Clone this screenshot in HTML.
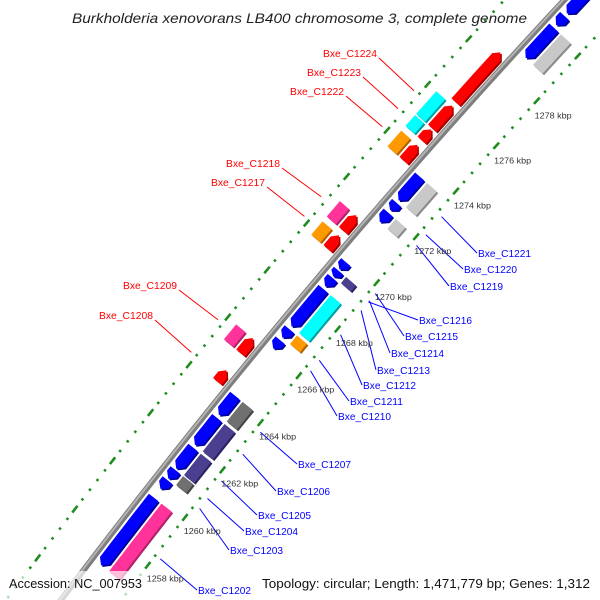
<!DOCTYPE html>
<html><head><meta charset="utf-8"><style>
html,body{margin:0;padding:0;background:#fff;overflow:hidden;}
svg{display:block;font-family:"Liberation Sans","DejaVu Sans",sans-serif;}
</style></head><body>
<svg id="map" width="600" height="600" viewBox="0 0 600 600" xmlns="http://www.w3.org/2000/svg">
<rect x="0" y="0" width="600" height="600" fill="#fff"/>
<g id="ticks"></g>
<g id="backbone"></g>
<g id="genes"></g>
<rect x="0" y="571" width="600" height="29" fill="#fff" fill-opacity="0.68"/>
<g id="leaders"></g>
<g id="labels"></g>
<g id="ticklabels"></g>
<text x="72" y="23" font-size="14" font-style="italic" fill="#222" textLength="455" lengthAdjust="spacingAndGlyphs">Burkholderia xenovorans LB400 chromosome 3, complete genome</text>
<text x="9" y="588" font-size="13" fill="#111" textLength="133" lengthAdjust="spacingAndGlyphs">Accession: NC_007953</text>
<text x="262" y="588" font-size="13" fill="#111" textLength="328" lengthAdjust="spacingAndGlyphs">Topology: circular; Length: 1,471,779 bp; Genes: 1,312</text>
</svg>
<script>
// genome data (kbp)
const outerStarts = [1264.16, 1265.36, 1269.81, 1270.59, 1273.62, 1274.51, 1275.03, 1276.18];
const outerEnds   = [1264.63, 1265.99, 1270.38, 1271.25, 1274.30, 1274.98, 1276.02, 1278.37];
const outerCogStarts = [1265.36, 1269.81, 1270.59, 1273.62, 1274.51, 1275.03];
const outerCogEnds   = [1265.99, 1270.38, 1271.25, 1274.30, 1274.98, 1276.02];
const outerCogCats   = ["pink", "orange", "pink", "orange", "cyan", "cyan"];
const innerStarts = [1257.06, 1260.24, 1260.66, 1261.08, 1262.07, 1263.33, 1266.15, 1266.62, 1267.09, 1268.81, 1269.23, 1269.54, 1271.58, 1272.10, 1272.52, 1278.79, 1280.26, 1280.78];
const innerEnds   = [1259.88, 1260.61, 1261.03, 1261.97, 1263.22, 1264.16, 1266.51, 1266.98, 1268.71, 1269.18, 1269.49, 1269.86, 1272.00, 1272.42, 1273.57, 1280.15, 1280.67, 1283.5];
const innerCogStarts = [1257.06, 1260.66, 1261.08, 1262.07, 1263.33, 1266.62, 1267.09, 1269.23, 1271.58, 1272.52, 1278.79];
const innerCogEnds   = [1259.88, 1261.03, 1261.97, 1263.22, 1264.16, 1266.98, 1268.71, 1269.49, 1272.00, 1273.57, 1280.15];
const innerCogCats   = ["pink", "dgray", "purple", "purple", "dgray", "orange", "cyan", "purple", "lgray", "lgray", "lgray"];
const tickKbp = [1258, 1260, 1262, 1264, 1266, 1268, 1270, 1272, 1274, 1276, 1278];
const outerLabelNames = ["Bxe_C1224","Bxe_C1223","Bxe_C1222","Bxe_C1218","Bxe_C1217","Bxe_C1209","Bxe_C1208"];
const outerLabelTargets = [1275.55, 1274.77, 1273.99, 1270.96, 1270.12, 1265.73, 1264.36];
const innerLabelNames = ["Bxe_C1221","Bxe_C1220","Bxe_C1219","Bxe_C1216","Bxe_C1215","Bxe_C1214","Bxe_C1213","Bxe_C1212","Bxe_C1211","Bxe_C1210","Bxe_C1207","Bxe_C1206","Bxe_C1205","Bxe_C1204","Bxe_C1203","Bxe_C1202"];
const innerLabelTargets = [1273.05, 1272.26, 1271.79, 1269.34, 1269.70, 1269.39, 1268.97, 1267.92, 1266.82, 1266.37, 1263.75, 1262.82, 1261.69, 1260.95, 1260.53, 1258.42];
// label layout (screen anchors)
const outerLabelLayout = [[377,53],[361,72],[344,91],[280,163],[265,182],[177,285],[153,315]];
const innerLabelLayout = [[478,253],[464,269],[450,286],[419,320],[405,336],[391,353],[377,370],[363,385],[350,401],[338,416],[298,464],[277,491],[258,515],[245,531],[230,550],[198,590]];

const NS="http://www.w3.org/2000/svg";
const CX=6024, CY=5091, R0=7465, TH0=-2.4281, KB=244.75, PXK=30.5;
function P(s,r){const t=TH0+(s-1272)/KB;return [CX+(R0+r)*Math.cos(t), CY+(R0+r)*Math.sin(t)];}
const COLORS={red:["#ff0000","#a00000"],blue:["#0000ff","#00009a"],cyan:["#00ffff","#00a0a0"],orange:["#ff9900","#b06000"],pink:["#ff3399","#b0206a"],lgray:["#c8c8c8","#8a8a8a"],dgray:["#707070","#444"],purple:["#4b3f8f","#2a2260"]};
function mk(tag,attrs,parent){const e=document.createElementNS(NS,tag);for(const k in attrs)e.setAttribute(k,attrs[k]);parent.appendChild(e);return e;}
function pts(list){return list.map(p=>p[0].toFixed(2)+","+p[1].toFixed(2)).join(" ");}

// tick rings
const tg=document.getElementById("ticks");
[44,-48].forEach(function(r){
  for(let i=0;i<=110;i++){
    const s=1250+i*0.4;
    const major=Math.abs(s/2-Math.round(s/2))<0.01;
    const h=major?0.14:0.04;
    const a=P(s-h,r), b=P(s+h,r);
    const l=mk("line",{x1:a[0],y1:a[1],x2:b[0],y2:b[1],stroke:"#1e8c1e","stroke-width":2.6},tg);
    
    
  }
});

// backbone
const bg=document.getElementById("backbone");
const bb=[],bb2=[];
for(let s=1245;s<=1292;s+=0.5){bb.push(P(s,0));bb2.push(P(s,1));}
const b1=mk("polyline",{points:pts(bb),fill:"none",stroke:"#7f7f7f","stroke-width":6},bg);


const b2=mk("polyline",{points:pts(bb2),fill:"none",stroke:"#b4b4b4","stroke-width":2},bg);



// genes
const gg=document.getElementById("genes");
function shape(s0,s1,r1,r2,dir){
  const len=s1-s0; const hd=Math.min(6/PXK,len*0.5); const rm=(r1+r2)/2; const out=[];
  const steps=Math.max(2,Math.ceil(len*4));
  if(dir===0){
    for(let i=0;i<=steps;i++)out.push(P(s0+len*i/steps,r1));
    for(let i=steps;i>=0;i--)out.push(P(s0+len*i/steps,r2));
  }else if(dir>0){
    const sh=s1-hd;
    for(let i=0;i<=steps;i++)out.push(P(s0+(sh-s0)*i/steps,r1));
    out.push(P(s1,rm));
    for(let i=steps;i>=0;i--)out.push(P(s0+(sh-s0)*i/steps,r2));
  }else{
    const sh=s0+hd;
    out.push(P(s0,rm));
    for(let i=0;i<=steps;i++)out.push(P(sh+(s1-sh)*i/steps,r1));
    for(let i=steps;i>=0;i--)out.push(P(sh+(s1-sh)*i/steps,r2));
  }
  return out;
}
function drawGene(s0,s1,r1,r2,dir,col,name){
  const p=shape(s0,s1,r1,r2,dir);
  const sh=mk("polygon",{points:pts(p.map(q=>[q[0]+1.4,q[1]+1.6])),fill:COLORS[col][1]},gg);
  
  
  const m=mk("polygon",{points:pts(p),fill:COLORS[col][0]},gg);
  
  
}
for(let i=0;i<outerStarts.length;i++)drawGene(outerStarts[i],outerEnds[i],6,17,1,"red","forward-cds");
for(let i=0;i<outerCogStarts.length;i++)drawGene(outerCogStarts[i],outerCogEnds[i],21,33,0,outerCogCats[i],"forward-cog");
for(let i=0;i<innerStarts.length;i++)drawGene(innerStarts[i],innerEnds[i],-17,-5,-1,"blue","reverse-cds");
for(let i=0;i<innerCogStarts.length;i++)drawGene(innerCogStarts[i],innerCogEnds[i],-34,-21,0,innerCogCats[i],"reverse-cog");

// labels
const lg=document.getElementById("leaders"), lbg=document.getElementById("labels");
for(let i=0;i<outerLabelNames.length;i++){
  const e=P(outerLabelTargets[i],50); const a=outerLabelLayout[i];
  const l=mk("line",{x1:a[0]+2,y1:a[1]+5,x2:e[0],y2:e[1],stroke:"#ff0000","stroke-width":1},lg);
  
  
  const t=mk("text",{x:a[0],y:a[1]+4,"text-anchor":"end","font-size":10.5,fill:"#ff0000",textLength:54,lengthAdjust:"spacingAndGlyphs"},lbg);
  t.textContent=outerLabelNames[i];
  
  
}
for(let i=0;i<innerLabelNames.length;i++){
  const e=P(innerLabelTargets[i],-54); const a=innerLabelLayout[i];
  const l=mk("line",{x1:a[0]-1,y1:a[1],x2:e[0],y2:e[1],stroke:"#0000ff","stroke-width":1},lg);
  
  
  const t=mk("text",{x:a[0],y:a[1]+4,"font-size":10.5,fill:"#0000ff",textLength:53,lengthAdjust:"spacingAndGlyphs"},lbg);
  t.textContent=innerLabelNames[i];
  
  
}
// tick labels
const tlg=document.getElementById("ticklabels");
for(let i=0;i<tickKbp.length;i++){
  const p=P(tickKbp[i],-70);
  const t=mk("text",{x:p[0],y:p[1]+3,"text-anchor":"middle","font-size":8.5,fill:"#333",textLength:37,lengthAdjust:"spacingAndGlyphs"},tlg);
  t.textContent=tickKbp[i]+" kbp";
  
  
}
</script>
</body></html>
